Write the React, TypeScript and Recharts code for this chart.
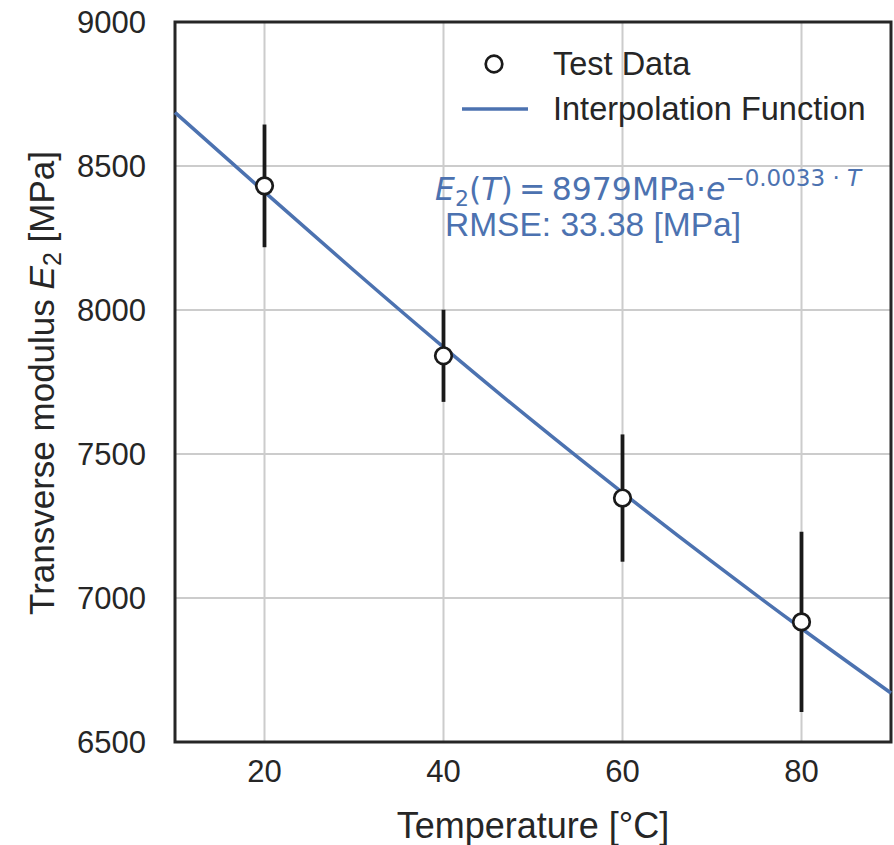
import React from "react";
import {
  CartesianGrid,
  ComposedChart,
  ErrorBar,
  Line,
  ReferenceArea,
  Scatter,
  XAxis,
  YAxis,
} from "recharts";

// measured test points
const temps = [20, 40, 60, 80];
const modulus = [8431, 7841, 7347, 6917];
const modulusErr = [213, 160, 221, 313];

// fitted curve
const fitTemps = [10, 20, 30, 40, 50, 60, 70, 80, 90];
const fitModulus = [8686, 8410, 8137, 7871, 7614, 7366, 7126, 6894, 6670];

const xTicks = [20, 40, 60, 80];
const yTicks = [6500, 7000, 7500, 8000, 8500, 9000];

const INK = "#262626";
const BAR = "#1a1a1a";
const BLUE = "#4c72b0";
const GRID = "#cccccc";
const FONT = "'Liberation Sans', Arial, sans-serif";

const testData = temps.map((T, i) => ({ T, E: modulus[i], err: modulusErr[i] }));
const fitData = fitTemps.map((T, i) => ({ T, E: fitModulus[i] }));

function Marker(props: any) {
  const { cx, cy } = props;
  if (cx == null || cy == null) return null;
  return <circle cx={cx} cy={cy} r={8.3} fill="#fff" stroke={BAR} strokeWidth={2.7} />;
}

function Overlay() {
  return (
    <g fontFamily={FONT}>
      <text
        transform="translate(54,383) rotate(-90)"
        textAnchor="middle"
        fontSize={35}
        fill={INK}
      >
        Transverse modulus <tspan fontStyle="italic">E</tspan>
        <tspan fontSize={25} dy={7}>2</tspan>
        <tspan dy={-7}> [MPa]</tspan>
      </text>
      <text x={533} y={838} textAnchor="middle" fontSize={36} fill={INK}>
        Temperature [°C]
      </text>

      {/* legend */}
      <circle cx={494} cy={64} r={8.3} fill="#fff" stroke={BAR} strokeWidth={2.7} />
      <text x={553} y={75} fontSize={32.5} fill={INK}>
        Test Data
      </text>
      <line x1={462} x2={528} y1={109} y2={109} stroke={BLUE} strokeWidth={3.5} />
      <text x={553} y={120} fontSize={32.5} fill={INK}>
        Interpolation Function
      </text>

      {/* fit annotation */}
      <text x={435} y={200} fontSize={31.5} fill={BLUE} fontFamily="'DejaVu Sans', sans-serif">
        <tspan fontStyle="italic">E</tspan>
        <tspan fontSize={22} dy={6}>2</tspan>
        <tspan dy={-6}>(</tspan>
        <tspan fontStyle="italic">T</tspan>
        <tspan>){"\u2009"}={"\u2009"}8979MPa·</tspan>
        <tspan fontStyle="italic">e</tspan>
        <tspan fontSize={23} dy={-14}>−0.0033 · </tspan>
        <tspan fontSize={23} fontStyle="italic">T</tspan>
      </text>
      <text x={445} y={236} fontSize={33.5} fill={BLUE}>
        RMSE: 33.38 [MPa]
      </text>
    </g>
  );
}

export default function App() {
  return (
    <div style={{ position: "absolute", left: 0, top: 0, background: "#fff" }}>
      <ComposedChart
        width={894}
        height={845}
        margin={{ top: 22, right: 3, bottom: 0, left: 0 }}
      >
        <CartesianGrid stroke={GRID} strokeWidth={2} />
        <XAxis
          dataKey="T"
          type="number"
          domain={[10, 90]}
          ticks={xTicks}
          height={103}
          axisLine={false}
          tickLine={false}
          tickMargin={12}
          tick={{ fontSize: 31, fill: INK, fontFamily: FONT }}
        />
        <YAxis
          type="number"
          domain={[6500, 9000]}
          ticks={yTicks}
          width={175}
          axisLine={false}
          tickLine={false}
          tickMargin={23}
          tick={{ fontSize: 31, fill: INK, fontFamily: FONT }}
        />
        <Line
          data={fitData}
          dataKey="E"
          type="monotone"
          stroke={BLUE}
          strokeWidth={3.5}
          dot={false}
          activeDot={false}
          isAnimationActive={false}
        />
        <Scatter data={testData} dataKey="E" shape={Marker} isAnimationActive={false}>
          <ErrorBar
            dataKey="err"
            direction="y"
            width={0}
            stroke={BAR}
            strokeWidth={3.8}
            isAnimationActive={false}
          />
        </Scatter>
        <ReferenceArea
          x1={10}
          x2={90}
          y1={6500}
          y2={9000}
          fill="none"
          fillOpacity={0}
          stroke={INK}
          strokeWidth={3}
        />
        <Overlay />
      </ComposedChart>
    </div>
  );
}
